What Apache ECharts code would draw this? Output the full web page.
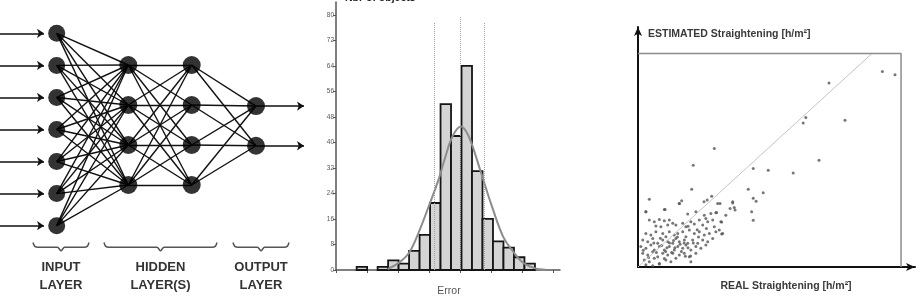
<!DOCTYPE html>
<html><head><meta charset="utf-8">
<script src="https://cdn.jsdelivr.net/npm/echarts@6/dist/echarts.min.js"></script>
<style>html,body{margin:0;padding:0;background:#fff}#c{width:920px;height:297px}</style>
</head><body><div id="c"></div>
<script>
// ---------- Data: neural network diagram ----------
const layerSizes = [7, 4, 4, 2];
const layerLabels = [['INPUT', 'LAYER'], ['HIDDEN', 'LAYER(S)'], ['OUTPUT', 'LAYER']];

// ---------- Data: histogram ----------
const histBinStart = 2;
const histBinWidth = 1.016;
const histCounts = [1, 0, 1, 3, 2, 6, 11, 21, 52, 42, 64, 31, 16, 9, 7, 4, 2];
const histYTicks = [0, 8, 16, 24, 32, 40, 48, 56, 64, 72, 80];
const histXTicks = [0, 3, 6, 9, 12, 15, 18, 21];
const normalCurveX = [5.0, 6.1, 7.1, 8.1, 9.1, 9.9, 10.6, 11.3, 12.1, 12.6, 13.1, 14.1, 15.1, 16.2, 17.3, 18.2, 19.3, 20.3];
const normalCurveY = [0.3, 2.3, 5.5, 12.5, 21, 28, 35.5, 42, 45, 43.5, 40, 30, 20, 10.4, 5.2, 2.1, 0.5, 0.1];
const sigmaLinesX = [9.53, 12.0, 14.34];
const sigmaLinesTop = [77.7, 79.3, 77.7];
const histYTitle = 'Nbr of objects';
const histXTitle = 'Error';

// ---------- Data: scatter ----------
const scatterPoints = [
  [3.0,23.0],[10.0,24.0],[15.7,26.5],[18.9,22.1],[22.0,23.0],[25.2,21.6],[25.8,20.2],[27.7,22.3],[29.6,22.6],[31.5,18.9],[33.4,21.6],[36.0,27.2],[36.6,24.8],[30.3,26.5],
  [4.3,19.6],[6.2,18.9],[8.1,19.8],[10.0,19.3],[11.9,19.6],[13.2,18.2],[11.3,17.5],[8.7,16.8],[6.8,17.1],
  [14.4,17.5],[17.0,18.2],[18.2,16.8],[20.1,18.9],[21.4,17.9],[23.3,19.6],[24.6,17.5],[26.5,18.9],[28.4,19.6],[29.0,16.8],[30.9,15.4],
  [3.0,14.0],[4.9,13.3],[6.8,14.7],[9.4,14.0],[10.6,12.6],[11.9,14.7],[13.8,13.3],[15.1,14.0],[17.0,14.7],[18.2,12.6],[19.5,15.4],[21.4,14.0],[23.3,14.7],[25.2,13.3],[27.1,14.0],[29.6,14.7],[32.2,14.0],
  [1.8,11.2],[3.7,10.5],[5.6,11.9],[7.5,9.9],[9.4,11.2],[11.3,10.5],[13.2,9.9],[14.4,11.9],[15.7,10.5],[17.6,11.2],[18.9,9.9],[20.8,11.2],[22.7,9.9],[24.6,11.2],[26.5,10.5],[28.4,11.9],
  [1.1,8.5],[3.0,7.8],[4.9,9.2],[6.2,7.1],[8.1,8.5],[10.0,7.1],[11.9,8.5],[13.8,7.1],[15.1,8.5],[17.0,7.8],[18.2,9.2],[20.1,7.1],[22.0,8.5],[23.9,7.8],[25.8,9.2],
  [1.8,5.7],[3.7,5.0],[5.6,6.4],[7.5,4.3],[9.4,5.7],[11.3,5.0],[13.2,5.7],[15.7,5.0],[17.6,5.7],[19.5,4.3],[22.0,5.7],
  [2.4,2.9],[4.3,2.2],[6.2,3.6],[8.1,1.5],[10.6,2.9],[12.5,2.2],[14.4,3.6],[20.1,2.2],[3.0,0.9],[5.6,0.5],
  [9.0,9.0],[12.0,10.0],[14.0,8.0],[16.0,9.5],[10.5,6.5],[12.8,6.0],[7.0,6.0],[15.0,12.5],[17.5,10.0],[11.0,8.0],[13.5,11.0],[16.5,6.5],
  [19.0,8.0],[8.5,12.0],[6.0,10.0],[4.0,4.0],[2.0,7.0],[10.0,3.5],[18.0,4.5],[21.0,10.0],[23.0,12.5],[26.0,16.0],[19.0,17.0],[22.5,15.5],
  [92.9,81.5],[97.7,80.1],[72.6,76.7],[63.8,62.3],[62.8,60.0],[78.7,61.1],[29.0,49.4],[21.0,42.4],[68.8,44.5],[43.8,41.0],[49.5,40.3],[59.0,39.2],
  [20.4,32.4],[41.9,32.4],[47.6,30.9],[43.8,28.6],[44.9,27.4],[28.0,29.5],[4.3,28.2],[16.6,27.6],[15.7,26.5],[31.2,26.5],[36.0,26.7],[35.0,24.4],
  [36.9,23.7],[43.2,23.0],[43.8,19.5],[31.8,18.8],[29.9,22.7],[10.3,24.0],[3.0,23.0],[25.1,27.2],[26.3,27.9],[31.8,13.7],[20.0,4.6],[8.1,1.2]
];
const scatterBox = [100, 89];   // REAL / ESTIMATED extent of the framed area
const scatterXTitle = 'REAL Straightening [h/m\u00B2]';
const scatterYTitle = 'ESTIMATED Straightening [h/m\u00B2]';

// ---------- Layout (positions & styles) ----------
const FONT = '"Liberation Sans", Arial, sans-serif';
const NN = {
  layerX: [56.7, 128.3, 191.7, 256], centerY: [129.5, 125, 125, 125.9], spacing: [32.05, 40, 40, 39.7],
  nodeSize: [17, 18, 18, 18], inStart: 0, inEnd: 44, outEnd: 304,
  braceTop: 242.5, braceLine: 247.3, braceTip: 250.8, braceSpans: [[33, 89], [104, 217], [233, 289]], labelY: [267, 285]
};

// ---------- Build neural network ----------
const nodePos = layerSizes.map((n, l) => Array.from({length: n}, (_, i) =>
  [NN.layerX[l], NN.centerY[l] + (i - (n - 1) / 2) * NN.spacing[l]]));
const links = [];
for (let l = 0; l < layerSizes.length - 1; l++)
  nodePos[l].forEach(a => nodePos[l + 1].forEach(b => links.push({coords: [a, b]})));
const inArrows = nodePos[0].map(p => ({coords: [[NN.inStart, p[1]], [NN.inEnd, p[1]]]}));
const outArrows = nodePos[layerSizes.length - 1].map(p => ({coords: [p, [NN.outEnd, p[1]]]}));
const nodeSeries = nodePos.map((ps, l) => ({
  type: 'scatter', xAxisIndex: 0, yAxisIndex: 0, data: ps, symbolSize: NN.nodeSize[l],
  itemStyle: {color: '#000'}, z: 5, silent: true
}));
const braceSeries = NN.braceSpans.map(([x1, x2]) => {
  const m = (x1 + x2) / 2;
  return {
    type: 'line', xAxisIndex: 0, yAxisIndex: 0, showSymbol: false, silent: true, smooth: 0.25,
    lineStyle: {color: '#555', width: 1.5},
    data: [[x1, NN.braceTop], [x1 + 1.5, NN.braceLine - 1.2], [x1 + 5, NN.braceLine], [m - 3.5, NN.braceLine], [m, NN.braceTip],
           [m + 3.5, NN.braceLine], [x2 - 5, NN.braceLine], [x2 - 1.5, NN.braceLine - 1.2], [x2, NN.braceTop]]
  };
});
const graphics = [];
NN.braceSpans.forEach(([x1, x2], k) => {
  layerLabels[k].forEach((t, j) => graphics.push({
    type: 'text', x: (x1 + x2) / 2, y: NN.labelY[j],
    style: {text: t, font: 'bold 13px ' + FONT, fill: '#333', align: 'center', verticalAlign: 'middle'}
  }));
});
graphics.push({type: 'text', x: 345, y: 4, style: {text: histYTitle, font: 'bold 10.5px ' + FONT, fill: '#222', align: 'left', verticalAlign: 'bottom'}});
graphics.push({type: 'text', x: 449, y: 291, style: {text: histXTitle, font: '10.5px ' + FONT, fill: '#555', align: 'center', verticalAlign: 'middle'}});
graphics.push({type: 'text', x: 648, y: 34, style: {text: scatterYTitle, font: 'bold 10.5px ' + FONT, fill: '#3a3a3a', align: 'left', verticalAlign: 'middle'}});
graphics.push({type: 'text', x: 786, y: 286, style: {text: scatterXTitle, font: 'bold 10.5px ' + FONT, fill: '#3a3a3a', align: 'center', verticalAlign: 'middle'}});

// ---------- Histogram data items ----------
const histItems = histCounts.map((c, i) => [histBinStart + i * histBinWidth, histBinStart + (i + 1) * histBinWidth, c]);
const curveData = normalCurveX.map((x, i) => [x, normalCurveY[i]]);
const sigmaMark = sigmaLinesX.map((x, i) => [{coord: [x, 0]}, {coord: [x, sigmaLinesTop[i]]}]);

const hiddenAxis = {show: false};
const option = {
  animation: false,
  backgroundColor: '#fff',
  graphic: graphics,
  grid: [
    {left: 0, top: 0, width: 310, height: 297},
    {left: 336, top: 2, width: 224, height: 268},
    {left: 638, top: 27, width: 277, height: 240}
  ],
  xAxis: [
    {gridIndex: 0, type: 'value', min: 0, max: 310, ...hiddenAxis},
    {gridIndex: 1, type: 'value', min: 0, max: 21.7,
      axisLine: {lineStyle: {color: '#555', width: 1.5}},
      axisTick: {show: true, customValues: histXTicks, length: 3, lineStyle: {color: '#555'}},
      axisLabel: {show: false}, splitLine: {show: false}},
    {gridIndex: 2, type: 'value', min: 0, max: 105.3,
      axisLine: {lineStyle: {color: '#111', width: 2}, symbol: ['none', 'arrow'], symbolSize: [6, 9]},
      axisTick: {show: false}, axisLabel: {show: false}, splitLine: {show: false}}
  ],
  yAxis: [
    {gridIndex: 0, type: 'value', min: 0, max: 297, inverse: true, ...hiddenAxis},
    {gridIndex: 1, type: 'value', min: 0, max: 84,
      axisLine: {show: true, lineStyle: {color: '#555', width: 1.5}},
      axisTick: {show: true, customValues: histYTicks, length: 3, lineStyle: {color: '#555'}},
      axisLabel: {show: true, customValues: histYTicks, fontSize: 6.5, color: '#555', margin: 2, fontFamily: FONT},
      splitLine: {show: false}},
    {gridIndex: 2, type: 'value', min: 0, max: 100,
      axisLine: {show: true, lineStyle: {color: '#111', width: 2}, symbol: ['none', 'arrow'], symbolSize: [6, 9]},
      axisTick: {show: false}, axisLabel: {show: false}, splitLine: {show: false}}
  ],
  series: [
    {type: 'lines', coordinateSystem: 'cartesian2d', xAxisIndex: 0, yAxisIndex: 0, data: links, silent: true,
      lineStyle: {color: '#111', width: 1.4, opacity: 1}, z: 2},
    {type: 'lines', coordinateSystem: 'cartesian2d', xAxisIndex: 0, yAxisIndex: 0, data: inArrows.concat(outArrows), silent: true,
      symbol: ['none', 'arrow'], symbolSize: 7, lineStyle: {color: '#111', width: 1.5, opacity: 1}, z: 3},
    ...nodeSeries,
    ...braceSeries,
    {type: 'custom', xAxisIndex: 1, yAxisIndex: 1, data: histItems, encode: {x: [0, 1], y: 2}, silent: true, z: 3,
      renderItem: (params, api) => {
        if (api.value(2) <= 0) return null;
        const p0 = api.coord([api.value(0), api.value(2)]);
        const p1 = api.coord([api.value(1), 0]);
        return {type: 'rect', shape: {x: p0[0], y: p0[1], width: p1[0] - p0[0], height: p1[1] - p0[1]},
          style: {fill: '#d4d4d4', stroke: '#151515', lineWidth: 1.8}};
      }},
    {type: 'line', xAxisIndex: 1, yAxisIndex: 1, data: curveData, smooth: 0.35, showSymbol: false, silent: true, z: 4,
      lineStyle: {color: '#8c8c8c', width: 2},
      markLine: {silent: true, symbol: 'none', label: {show: false},
        lineStyle: {type: 'dotted', color: '#a0a0a0', width: 1}, data: sigmaMark}},
    {type: 'line', xAxisIndex: 2, yAxisIndex: 2, data: [[0, 0], [scatterBox[1], scatterBox[1]]], showSymbol: false, silent: true,
      lineStyle: {color: '#c4c4c4', width: 1}},
    {type: 'line', xAxisIndex: 2, yAxisIndex: 2, data: [[0, scatterBox[1]], [scatterBox[0], scatterBox[1]], [scatterBox[0], 0]],
      showSymbol: false, silent: true, lineStyle: {color: '#8c8c8c', width: 1.5}},
    {type: 'scatter', xAxisIndex: 2, yAxisIndex: 2, data: scatterPoints, symbolSize: 3, silent: true,
      itemStyle: {color: '#555'}}
  ]
};
const chart = echarts.init(document.getElementById('c'), null, {renderer: 'canvas'});
chart.setOption(option);
</script>
</body></html>
